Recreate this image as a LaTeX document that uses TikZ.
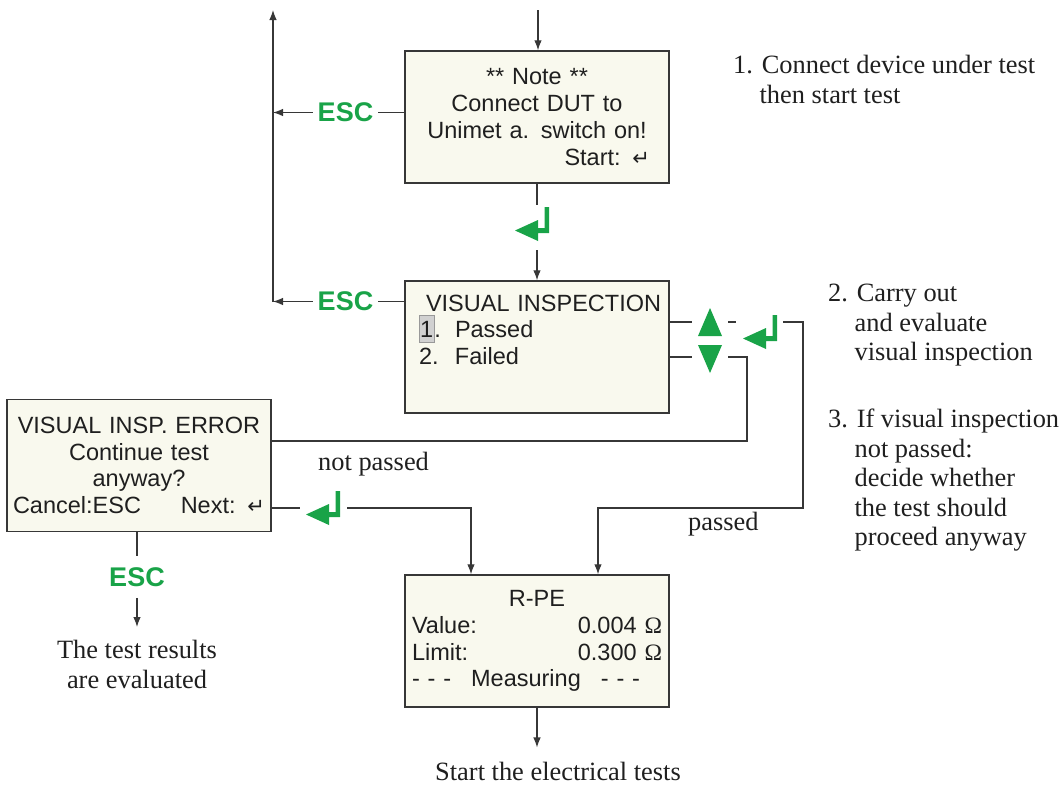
\documentclass[tikz,border=0pt]{standalone}
\usepackage{fontspec}
\setmainfont{Liberation Serif}
\setsansfont{Liberation Sans}
\newfontfamily\symf{DejaVu Sans}
\usetikzlibrary{arrows.meta}
\definecolor{escgreen}{RGB}{25,163,72}
\definecolor{lcdbg}{RGB}{249,249,238}
\definecolor{linegray}{RGB}{55,55,55}
\newcommand{\retkey}{{\symf\fontsize{21}{21}\selectfont ↵}}
\newcommand{\ohm}{{\rmfamily Ω}}
\newcommand{\hlite}[1]{{\setlength{\fboxsep}{0.5pt}\setlength{\fboxrule}{0.6pt}\fcolorbox{black!40}{black!18}{\rule[-4pt]{0pt}{26pt}#1}}}
% green enter key, #1 = node, #2/#3 = offset of its lower right corner
\newcommand{\enterglyph}[3]{\fill[escgreen] ([shift={(#2,#3)}]#1.center) -- ++(0,-26) -- ++(-4.5,0) -- ++(0,21) -- ++(-6.5,0) -- ++(0,-8) -- ++(-23,10.5) -- ++(23,10.5) -- ++(0,-8) -- cycle;}
\newcommand{\ffill}{\hspace*{0pt plus 1filll}}

\begin{document}
\begin{tikzpicture}[x=1pt, y=-1pt,
  screen/.style={draw=linegray, line width=1.4pt, fill=lcdbg, minimum width=264pt, minimum height=132pt,
    font=\sffamily\fontsize{23.5}{26.7}\selectfont, text=black!88, inner sep=0pt},
  esc/.style={text=escgreen, font=\sffamily\bfseries\fontsize{27}{30}\selectfont, inner xsep=5pt, inner ysep=11pt},
  keyslot/.style={minimum width=#1, minimum height=28pt, inner sep=0pt},
  remark/.style={font=\fontsize{26.4}{29.5}\selectfont, align=left, inner sep=0pt, text=black!88},
  wire/.style={draw=linegray, line width=1.2pt},
  arr/.style={wire, -{Latex[length=10pt,width=7.5pt]}}
]
\useasboundingbox (0,0) rectangle (1063,785);

% screens
\node[screen, text width=226pt, align=center] (note) at (537,117)
  {** Note **\\Connect DUT to\\Unimet a. switch on!\\\ffill Start: \retkey};
\node[screen, text width=236pt, align=left] (visual) at (537,347)
  {\hspace*{7pt}\mbox{VISUAL INSPECTION}\\\makebox[36pt][l]{\hlite{1}.}Passed\\\makebox[36pt][l]{2.}Failed\\\rule[-8pt]{0pt}{0pt}};
\node[screen, text width=252pt, align=center] (err) at (139,465.5)
  {VISUAL INSP. ERROR\\Continue test\\anyway?\\Cancel:ESC\ffill Next: \retkey};
\node[screen, text width=250pt, align=center] (rpe) at (537,641)
  {R-PE\\Value:\ffill 0.004 \ohm\\Limit:\ffill 0.300 \ohm\\- - -\hspace{20pt}Measuring\hspace{20pt}- - -\ffill};

% keys
\node[esc] (esc1) at (345.5,112.5) {ESC};
\node[esc] (esc2) at (345.5,301.5) {ESC};
\node[esc] (esc3) at (137,577) {ESC};
\node[keyslot=50pt, minimum height=45pt] (ent1) at (537,227.5) {};
\node[keyslot=36pt] (up) at (710,322) {};
\node[keyslot=36pt] (dn) at (710,357) {};
\node[keyslot=47pt] (ent2) at (759.5,322) {};
\node[keyslot=47pt] (ent3) at (323.5,508) {};
\enterglyph{ent1}{12}{5.5}
\enterglyph{ent2}{17.5}{19}
\enterglyph{ent3}{16.5}{9}
\fill[escgreen] ([shift={(0,-14)}]up.center) -- ++(12,28) -- ++(-24,0) -- cycle;
\fill[escgreen] ([shift={(0,16)}]dn.center) -- ++(12,-28) -- ++(-24,0) -- cycle;

% remarks
\node[remark, anchor=north west] (r1) at (733,55)
  {1. Connect device under test\\\phantom{1.\ }then start test};
\node[remark, anchor=north west] (r2) at (828,284)
  {2. Carry out\\\phantom{2.\ }and evaluate\\\phantom{2.\ }visual inspection};
\node[remark, anchor=north west] (r3) at (828,409)
  {3. If visual inspection\\\phantom{3.\ }not passed:\\\phantom{3.\ }decide whether\\\phantom{3.\ }the test should\\\phantom{3.\ }proceed anyway};
\node[remark, anchor=base west] (notpassed) at (318,470) {not passed};
\node[remark, anchor=base west] (passed) at (688,530) {passed};
\node[remark, align=center, anchor=north] (result) at (137,640) {The test results\\are evaluated};
\node[remark, anchor=base] (elec) at (558,780) {Start the electrical tests};

% connectors
\coordinate (top) at (538,10);
\coordinate (trunkT) at (273,10);
\coordinate (trunkB) at (273,302);
\coordinate (passR) at (803,508);
\coordinate (failR) at (747,441);
\draw[arr] (top) -- (top |- note.north);
\draw[wire] (note.south) -- (ent1.north);
\draw[arr] (ent1.south) -- (visual.north);
\draw[arr] (trunkB) -- (trunkT);
\draw[wire] (note.west |- esc1) -- (esc1.east);
\draw[arr] (esc1.west) -- (esc1.west -| trunkT);
\draw[wire] (visual.west |- esc2) -- (esc2.east);
\draw[arr] (esc2.west) -- (esc2.west -| trunkT);
\draw[wire] (visual.east |- up) -- (up.west);
\draw[wire] (up.east) -- (ent2.west);
\draw[arr] (ent2.east) -| (passR) -| ([xshift=61pt]rpe.north);
\draw[wire] (visual.east |- dn) -- (dn.west);
\draw[wire] (dn.east) -| (failR) -- (failR -| err.east);
\draw[wire] (err.east |- ent3) -- (ent3.west);
\draw[arr] (ent3.east) -| ([xshift=-66pt]rpe.north);
\draw[wire] (esc3.north |- err.south) -- (esc3.north);
\draw[arr, shorten >=13pt] (esc3.south) -- (esc3.south |- result.north);
\draw[arr, shorten >=14pt] (rpe.south) -- (rpe.south |- elec.north);
\end{tikzpicture}
\end{document}
